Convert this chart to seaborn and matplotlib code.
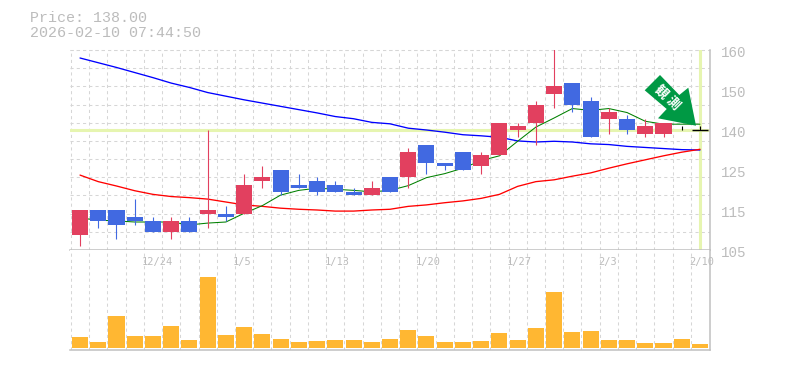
import numpy as np
import pandas as pd
import matplotlib
matplotlib.use("Agg")
import matplotlib.pyplot as plt
from matplotlib.patches import Polygon
from matplotlib.transforms import blended_transform_factory
import seaborn as sns

# ==============================
# Data
# ==============================
opens = [109, 116, 116, 114, 113, 110, 113, 115, 115, 115, 124, 127, 123, 124, 123, 121, 120, 125,
         125, 134, 129, 132, 128, 131, 138, 140, 148, 151, 146, 141, 141, 137, 137, 138, 138]
closes = [116, 113, 112, 113, 110, 113, 110, 116, 114, 123, 125, 121, 122, 121, 121, 120, 122, 121,
          132, 129, 128, 127, 131, 140, 139, 145, 150, 145, 136, 143, 138, 139, 140, 138, 138]
highs = [116, 116, 116, 119, 114, 114, 114, 138, 117, 126, 128, 127, 126, 125, 124, 122, 124, 125,
         133, 134, 129, 132, 132, 140, 140, 146, 161, 151, 147, 144, 142, 141, 140, 139, 139]
lows = [106, 111, 108, 112, 110, 108, 110, 111, 113, 115, 122, 120, 122, 120, 121, 120, 120, 121,
        122, 126, 127, 127, 126, 131, 136, 134, 144, 143, 136, 137, 137, 136, 136, 138, 138]

ma_short = [113.8, 113.2, 113.0, 112.7, 112.7, 112.7, 111.9, 112.4, 112.7, 115.1, 117.2, 120.1,
            121.4, 122.0, 121.7, 121.4, 121.0, 121.4, 122.7, 124.9, 126.0, 127.5, 129.6, 130.9,
            134.9, 138.8, 141.3, 143.9, 143.4, 143.9, 142.8, 140.4, 139.6, 139.6, 139.6]
ma_mid = [125.6, 123.8, 122.6, 121.3, 120.3, 119.7, 119.4, 119.0, 118.2, 117.4, 117.0, 116.5,
          116.2, 116.0, 115.7, 115.7, 116.0, 116.2, 117.0, 117.4, 118.0, 118.5, 119.2, 120.3,
          122.5, 123.8, 124.3, 125.3, 126.2, 127.5, 128.7, 129.8, 130.9, 131.9, 132.7]
ma_long = [157.8, 156.5, 155.2, 153.8, 152.4, 150.9, 149.7, 148.3, 147.3, 146.3, 145.4, 144.5,
           143.6, 142.7, 141.7, 141.1, 140.1, 139.7, 138.5, 138.0, 137.4, 136.7, 136.4, 136.0,
           135.0, 134.7, 134.9, 134.7, 134.2, 134.0, 133.5, 133.2, 132.9, 132.6, 132.5]

volume = [11, 6, 32, 12, 12, 22, 8, 71, 13, 21, 14, 9, 6, 7, 8, 8, 6, 9,
          18, 12, 6, 6, 7, 15, 8, 20, 56, 16, 17, 8, 8, 5, 5, 9, 4]

date_index = [4, 9, 14, 19, 24, 29, 34]
date_labels = ["12/24", "1/5", "1/13", "1/20", "1/27", "2/3", "2/10"]

# the chart prints these labels evenly, not at their real price
price_labels = ["160", "150", "140", "125", "115", "105"]
label_pos = [159.1, 148.1, 137.1, 126.1, 115.1, 104.1]

last_price = 138.00
stamp = "2026-02-10 07:44:50"
banner_text = ["観", "測"]

# banner arrow outline, picture pixels
arrow_px = [(644.7, 90.3), (660, 75), (679.3, 95), (688.3, 87.7),
            (696, 125.7), (658, 118.3), (666.7, 109)]

# ==============================
# Colours and layout
# ==============================
RED = "#e2405f"
BLUE = "#4169e1"
ORANGE = "#ffb732"
GRID = "#d6d6d6"
FRAME = "#c0c0c0"
TEXT = "#bcbcbc"
MARKER = "#e6f5b0"

W, H = 785, 370

sns.set_style("white")
plt.rcParams["font.family"] = ["Liberation Mono", "DejaVu Sans Mono"]

fig = plt.figure(figsize=(W / 100, H / 100), dpi=100)
ax = fig.add_axes([70 / W, 1 - 250 / H, 640 / W, 200 / H])
ax_vol = fig.add_axes([70 / W, 1 - 350 / H, 640 / W, 100 / H])

pos = np.arange(len(opens))
grid_x = pos - 0.5
dash = (0, (3, 3))

for a in [ax, ax_vol]:
    a.set_xlim(-0.55, 34.55)
    a.set_xticks(grid_x[1:], minor=True)
    a.set_xticks([])
    a.grid(False)
    a.grid(True, which="minor", axis="x", color=GRID, lw=0.75, ls=dash)
    a.set_axisbelow(True)
    a.tick_params(which="both", length=0)
    for side in ["left", "top"]:
        a.spines[side].set_visible(False)
    for side in ["right", "bottom"]:
        a.spines[side].set_color(FRAME)
        a.spines[side].set_linewidth(1.1)
    a.axvline(-0.5, color=GRID, lw=0.75, ls=dash, zorder=0.5)

# ==============================
# Price panel
# ==============================
ax.set_yticks(np.arange(110, 165, 5), minor=True)
ax.set_yticks([])
ax.set_ylim(105, 160)
ax.grid(True, which="minor", axis="y", color=GRID, lw=0.75, ls=dash)
ax.axhline(160, color=GRID, lw=0.75, ls=dash, zorder=0.5, clip_on=False)

ax.axhline(last_price, color=MARKER, lw=2.2, zorder=1)
ax.axvline(pos[-1], color=MARKER, lw=2.2, zorder=1)

sns.lineplot(x=pos, y=ma_long, color="#0000ff", lw=0.95, ax=ax, errorbar=None, zorder=2)
sns.lineplot(x=pos, y=ma_mid, color="#ff0000", lw=0.95, ax=ax, errorbar=None, zorder=2)
sns.lineplot(x=pos, y=ma_short, color="#008000", lw=0.75, ax=ax, errorbar=None, zorder=2)

o = np.array(opens)
c = np.array(closes)
candle_col = [RED if cl > op else BLUE if cl < op else "black" for op, cl in zip(o, c)]
ax.vlines(pos, lows, highs, colors=candle_col, lw=0.8, zorder=3)
ax.bar(pos, np.abs(c - o), bottom=np.minimum(o, c), width=0.88, color=candle_col, lw=0, zorder=3)
# the last session has only a flat bar
ax.hlines(closes[-1], pos[-1] - 0.44, pos[-1] + 0.44, color="black", lw=1.0, zorder=3)

label_trans = blended_transform_factory(ax.transAxes, ax.transData)
for v, lab in zip(label_pos, price_labels):
    ax.text(1.0167, v, lab, transform=label_trans, ha="left", va="center", color=TEXT,
            fontsize=10.2, clip_on=False)

# ==============================
# Volume panel
# ==============================
ax_vol.set_ylim(-2, 98)
ax_vol.set_yticks([])
sns.barplot(x=pos, y=volume, color=ORANGE, saturation=1, width=0.88, native_scale=True,
            ax=ax_vol, zorder=3, lw=0)
ax_vol.set_xlim(-0.55, 34.55)
ax_vol.set_xticks([])
ax_vol.set_ylabel("")
ax.set_ylabel("")

trans = blended_transform_factory(ax_vol.transData, ax_vol.transAxes)
for i, lab in zip(date_index, date_labels):
    ax_vol.text(i - 0.6, 0.875, lab, transform=trans, ha="left", va="center", color=TEXT,
                fontsize=7.5, family=["DejaVu Sans Mono"], zorder=4, clip_on=False)

# ==============================
# Header and banner
# ==============================
fig.text(30 / W, 1 - 18 / H, f"Price: {last_price:.2f}", color=TEXT, fontsize=10.8, va="center")
fig.text(30 / W, 1 - 33 / H, stamp, color=TEXT, fontsize=10.8, va="center")

arrow = [(x / W, 1 - y / H) for x, y in arrow_px]
fig.add_artist(Polygon(arrow, closed=True, transform=fig.transFigure, fc="#009944", ec="none", zorder=5))
for ch, (x, y) in zip(banner_text, [(660.7, 91.7), (672.7, 103.3)]):
    fig.text(x / W, 1 - y / H, ch, color="white", fontsize=9.5, rotation=-45, ha="center", va="center",
             rotation_mode="anchor", family=["Noto Sans CJK JP"], weight="bold", zorder=6)

fig.savefig("out.png", dpi=100)
